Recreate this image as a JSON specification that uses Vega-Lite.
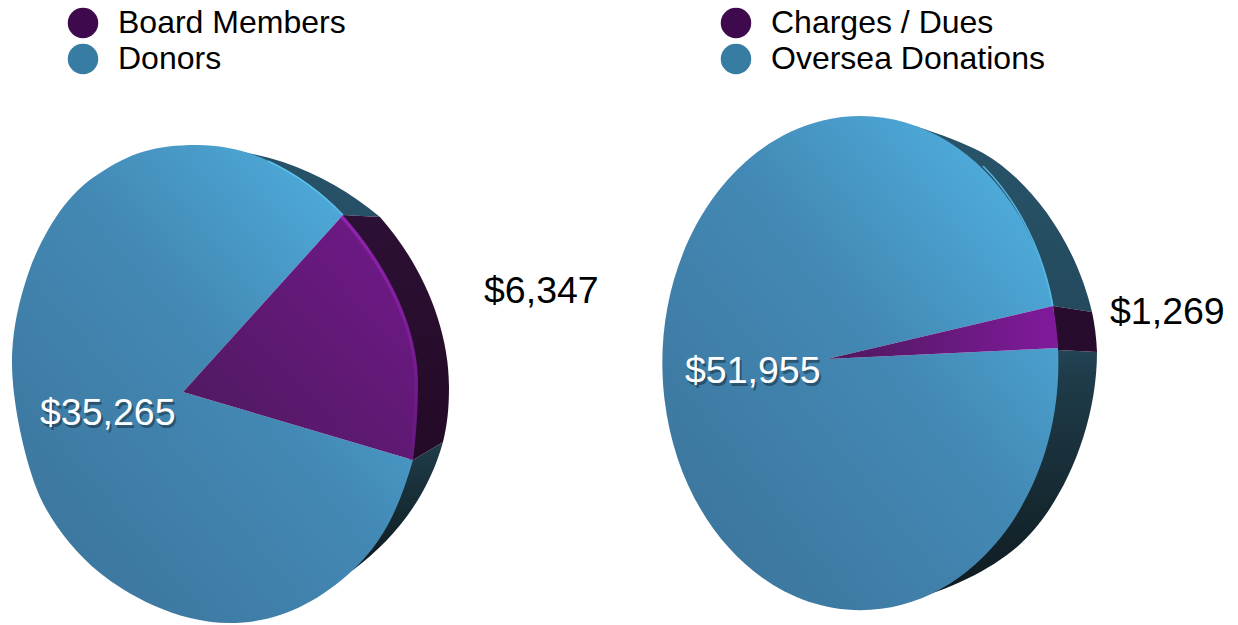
{"$schema":"https://vega.github.io/schema/vega-lite/v6.json","padding":0,"background":"white","spacing":0,"config":{"view":{"stroke":null},"text":{"font":"Liberation Sans"},"legend":{"orient":"none","title":null,"padding":0,"symbolType":"circle","symbolSize":930,"symbolOpacity":1,"symbolStrokeWidth":0,"labelFont":"Liberation Sans","labelFontSize":32,"labelColor":"#000000","labelOffset":19,"rowPadding":4,"labelLimit":500}},"datasets":{"pies":[{"pie":"left","slice":"Board Members","value":6347},{"pie":"left","slice":"Donors","value":35265},{"pie":"right","slice":"Charges / Dues","value":1269},{"pie":"right","slice":"Oversea Donations","value":51955}]},"hconcat":[{"width":619,"height":625,"data":{"name":"pies"},"transform":[{"filter":"datum.pie === 'left'"}],"encoding":{"x":{"field":"pie","type":"nominal","scale":{"domain":["left"],"range":[183,183]},"axis":null},"y":{"field":"pie","type":"nominal","scale":{"domain":["left"],"range":[392,392]},"axis":null}},"layer":[{"mark":{"type":"point","filled":true,"opacity":1,"size":0},"encoding":{"color":{"field":"slice","type":"nominal","scale":{"domain":["Board Members","Donors"],"range":["#3f0a4d","#367ca3"]},"legend":{"legendX":67,"legendY":7}}}},{"transform":[{"filter":"datum.slice === 'Donors'"}],"mark":{"type":"point","filled":true,"opacity":1,"size":4,"shape":"M27,-246 C52,-242 77,-237 100,-230 C137,-217 167,-200 197,-175 L160,-177 L47,-142 Z M230,68 L260,50 C247,98 217,143 170,178 L117,108 Z","fill":{"x1":0,"y1":0,"x2":0,"y2":1,"gradient":"linear","stops":[{"offset":0,"color":"#275268"},{"offset":0.65,"color":"#254a5e"},{"offset":0.72,"color":"#1e3a47"},{"offset":1,"color":"#0e1a1e"}]}}},{"transform":[{"filter":"datum.slice === 'Board Members'"}],"mark":{"type":"point","filled":true,"opacity":1,"size":4,"shape":"M160,-177 L197,-175 C237,-130 266,-67 266,-5 C266,18 264,33 260,50 L230,68 L197,-92 Z","fill":{"x1":0,"y1":0,"x2":0,"y2":1,"gradient":"linear","stops":[{"offset":0,"color":"#2d1035"},{"offset":1,"color":"#230a26"}]}}},{"transform":[{"filter":"datum.slice === 'Donors'"}],"mark":{"type":"point","filled":true,"opacity":1,"size":4,"shape":"M0,0 L160,-177 C122,-217 72,-247 14,-247 C-28,-247 -53,-239 -83,-219 C-111,-202 -133,-172 -151,-129 C-161,-102 -171,-67 -171,-29 C-171,8 -159,68 -143,105 C-131,131 -108,161 -83,181 C-58,201 -8,231 47,231 C92,231 132,213 170,178 C202,148 217,113 230,68 Z","fill":{"x1":0,"y1":1,"x2":1,"y2":0,"gradient":"linear","stops":[{"offset":0,"color":"#3a7197"},{"offset":0.55,"color":"#4389b5"},{"offset":0.85,"color":"#4da9d8"},{"offset":1,"color":"#58bdee"}]}}},{"transform":[{"filter":"datum.slice === 'Board Members'"}],"mark":{"type":"point","filled":true,"opacity":1,"size":4,"shape":"M0,0 L160,-177 C202,-130 235,-67 235,-9 C235,18 233,45 230,68 Z","fill":{"x1":0,"y1":1,"x2":1,"y2":0,"gradient":"linear","stops":[{"offset":0,"color":"#4c195c"},{"offset":1,"color":"#73198c"}]}}},{"transform":[{"filter":"datum.slice === 'Donors'"}],"mark":{"type":"point","filled":false,"opacity":0.8,"size":4,"strokeWidth":1.5,"stroke":"#62cdf8","shape":"M160,-177 C140,-198 115,-217 85,-231"}},{"transform":[{"filter":"datum.slice === 'Board Members'"}],"mark":{"type":"point","filled":false,"opacity":0.5,"size":4,"strokeWidth":3,"stroke":{"x1":0,"y1":0,"x2":0,"y2":1,"gradient":"linear","stops":[{"offset":0,"color":"#b62fdc"},{"offset":0.6,"color":"#8a1ea8"},{"offset":1,"color":"#6e1a88"}]},"shape":"M158,-176 C200,-129 233,-67 233,-9 C233,18 231,45 228,68"}},{"transform":[{"filter":"datum.slice === 'Donors'"}],"mark":{"type":"text","align":"left","baseline":"alphabetic","fontSize":37.5,"dx":-141,"dy":36,"color":"#000000","opacity":0.35},"encoding":{"text":{"field":"value","type":"quantitative","format":"$,.0f"}}},{"transform":[{"filter":"datum.slice === 'Donors'"}],"mark":{"type":"text","align":"left","baseline":"alphabetic","fontSize":37.5,"dx":-143,"dy":33,"color":"#ffffff","opacity":1},"encoding":{"text":{"field":"value","type":"quantitative","format":"$,.0f"}}},{"transform":[{"filter":"datum.slice === 'Board Members'"}],"mark":{"type":"text","align":"left","baseline":"alphabetic","fontSize":37.5,"dx":301,"dy":-89,"color":"#000000","opacity":1},"encoding":{"text":{"field":"value","type":"quantitative","format":"$,.0f"}}}]},{"width":619,"height":625,"data":{"name":"pies"},"transform":[{"filter":"datum.pie === 'right'"}],"encoding":{"x":{"field":"pie","type":"nominal","scale":{"domain":["right"],"range":[208,208]},"axis":null},"y":{"field":"pie","type":"nominal","scale":{"domain":["right"],"range":[359,359]},"axis":null}},"layer":[{"mark":{"type":"point","filled":true,"opacity":1,"size":0},"encoding":{"color":{"field":"slice","type":"nominal","scale":{"domain":["Charges / Dues","Oversea Donations"],"range":["#3f0a4d","#367ca3"]},"legend":{"legendX":101,"legendY":7}}}},{"transform":[{"filter":"datum.slice === 'Oversea Donations'"}],"mark":{"type":"point","filled":true,"opacity":1,"size":4,"shape":"M88,-233 C115,-224 135,-217 156,-206 C203,-179 248,-119 265,-47 L226,-53 L73,-59 Z M270,-7 C270,71 233,151 190,188 C163,211 123,231 73,244 L73,41 L231,-9 Z","fill":{"x1":0,"y1":0,"x2":0,"y2":1,"gradient":"linear","stops":[{"offset":0,"color":"#285469"},{"offset":0.45,"color":"#23485c"},{"offset":0.52,"color":"#1f3c4a"},{"offset":1,"color":"#0e1a1e"}]}}},{"transform":[{"filter":"datum.slice === 'Charges / Dues'"}],"mark":{"type":"point","filled":true,"opacity":1,"size":4,"shape":"M226,-53 L265,-47 Q269,-29 270,-7 L231,-9 Z","fill":"#280c2e"}},{"transform":[{"filter":"datum.slice === 'Oversea Donations'"}],"mark":{"type":"point","filled":true,"opacity":1,"size":4,"shape":"M0,0 L226,-53 A198,247 0 1 0 231,-11 Z","fill":{"x1":0,"y1":1,"x2":1,"y2":0,"gradient":"linear","stops":[{"offset":0,"color":"#3a7197"},{"offset":0.55,"color":"#4389b5"},{"offset":0.85,"color":"#4da9d8"},{"offset":1,"color":"#5abff0"}]}}},{"transform":[{"filter":"datum.slice === 'Charges / Dues'"}],"mark":{"type":"point","filled":true,"opacity":1,"size":4,"shape":"M0,0 L226,-53 A198,247 0 0 1 231,-11 Z","fill":{"x1":0,"y1":0,"x2":1,"y2":0,"gradient":"linear","stops":[{"offset":0,"color":"#4c195c"},{"offset":1,"color":"#801a9c"}]}}},{"transform":[{"filter":"datum.slice === 'Oversea Donations'"}],"mark":{"type":"point","filled":false,"opacity":0.8,"size":4,"strokeWidth":1.5,"stroke":"#5fd0ff","shape":"M226,-53 C216,-108 191,-158 156,-193"}},{"transform":[{"filter":"datum.slice === 'Oversea Donations'"}],"mark":{"type":"text","align":"left","baseline":"alphabetic","fontSize":37.5,"dx":-140,"dy":27,"color":"#000000","opacity":0.35},"encoding":{"text":{"field":"value","type":"quantitative","format":"$,.0f"}}},{"transform":[{"filter":"datum.slice === 'Oversea Donations'"}],"mark":{"type":"text","align":"left","baseline":"alphabetic","fontSize":37.5,"dx":-142,"dy":24,"color":"#ffffff","opacity":1},"encoding":{"text":{"field":"value","type":"quantitative","format":"$,.0f"}}},{"transform":[{"filter":"datum.slice === 'Charges / Dues'"}],"mark":{"type":"text","align":"left","baseline":"alphabetic","fontSize":37.5,"dx":283,"dy":-35,"color":"#000000","opacity":1},"encoding":{"text":{"field":"value","type":"quantitative","format":"$,.0f"}}}],"resolve":{"legend":{"color":"independent"}}}],"resolve":{"scale":{"color":"independent","x":"independent","y":"independent"},"legend":{"color":"independent"}}}
